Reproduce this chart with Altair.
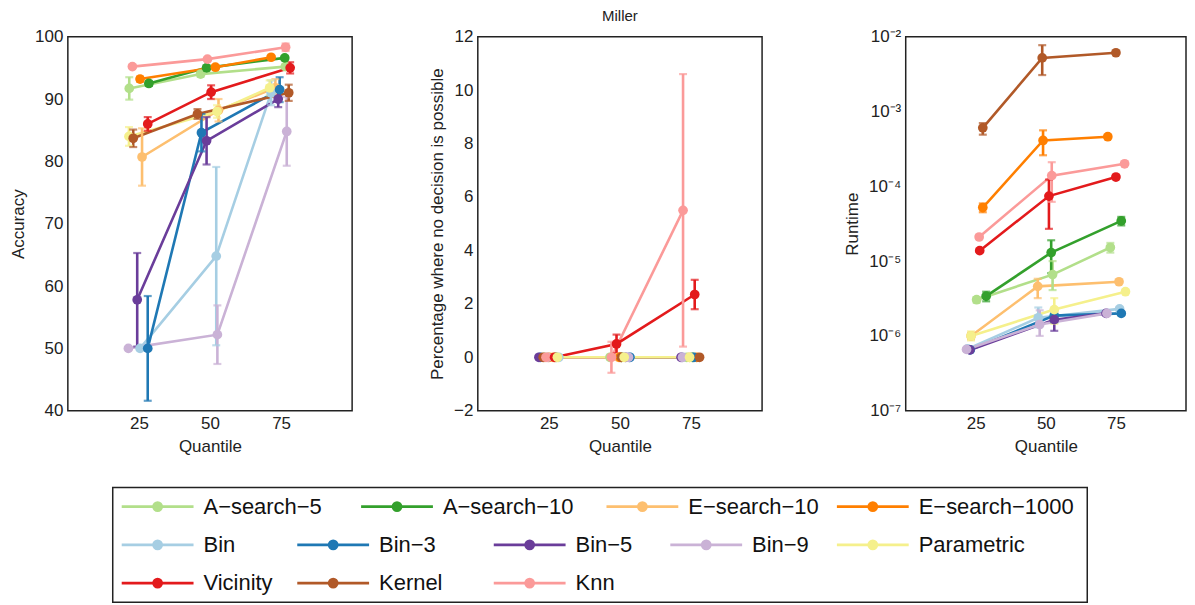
import altair as alt
import pandas as pd

SERIES = ["A−search−5", "A−search−10", "E−search−10", "E−search−1000", "Bin", "Bin−3",
          "Bin−5", "Bin−9", "Parametric", "Vicinity", "Kernel", "Knn"]
COLORS = ["#b2df8a", "#33a02c", "#fdbf6f", "#ff7f00", "#a6cee3", "#1f78b4",
          "#6a3d9a", "#cab2d6", "#f5f08c", "#e31a1c", "#b15928", "#fb9a99"]

# ---------------- Accuracy (left panel) ----------------
ACC_X = [[21.6, 46.7, 76.5], [28.5, 48.8, 76.3], [26.1, 53.0, 73.0], [25.4, 51.9, 71.5],
         [25.4, 52.2, 71.5], [28.1, 47.0, 74.5], [24.4, 48.8, 74.0], [21.3, 52.6, 77.0],
         [21.5, 52.5, 71.0], [28.1, 50.4, 78.2], [23.0, 45.6, 77.7], [22.7, 49.1, 76.6]]
ACC_MEAN = [[91.7, 94.0, 95.2], [92.5, 95.0, 96.6], [80.7, 88.2, 91.8], [93.2, 95.1, 96.7],
            [50.0, 64.8, 91.0], [50.0, 84.6, 91.5], [57.8, 83.3, 90.0], [50.0, 52.2, 84.8],
            [84.0, 88.0, 91.8], [86.0, 91.1, 95.0], [83.7, 87.6, 91.0], [95.2, 96.4, 98.3]]
ACC_ERR = [[1.8, 0.4, 0.3], [0.4, 0.4, 0.3], [4.6, 1.8, 1.4], [0.4, 0.3, 0.2],
           [0.2, 14.3, 2.0], [8.4, 3.0, 2.0], [7.5, 3.8, 1.3], [0.1, 4.7, 5.5],
           [1.5, 1.0, 1.2], [1.1, 1.1, 0.9], [1.4, 0.8, 1.3], [0.2, 0.2, 0.6]]

# ---------------- No decision possible (middle panel) ----------------
NODEC_X = [[23.5, 46.5, 73.5], [27.5, 50.5, 75.5], [26.5, 49.5, 74.5], [25.0, 50.0, 77.0],
           [28.5, 53.5, 72.0], [22.0, 53.5, 76.0], [21.5, 52.0, 71.5], [24.5, 53.0, 72.0],
           [28.0, 51.5, 74.5], [27.0, 48.8, 76.3], [23.0, 50.5, 78.0], [24.0, 47.0, 72.2]]
NODEC_MEAN = [[0, 0, 0]] * 9 + [[0, 0.5, 2.35], [0, 0, 0], [0, 0, 5.5]]
NODEC_ERR = [[0, 0, 0]] * 9 + [[0, 0.35, 0.55], [0, 0, 0], [0, 0.58, 5.1]]

# ---------------- Runtime (right panel) ----------------
RT_X = [[25.3, 52.4, 73.0], [28.7, 51.9, 76.9], [23.3, 47.1, 76.1], [27.5, 49.0, 72.1],
        [22.1, 47.3, 76.3], [23.0, 53.0, 76.9], [22.9, 53.0, 71.5], [21.7, 47.8, 71.8],
        [23.3, 53.0, 78.4], [26.4, 51.1, 75.0], [27.5, 48.7, 75.0], [26.2, 52.1, 78.1]]
RT_MEAN = [[3.05e-6, 6.6e-6, 1.52e-5], [3.4e-6, 1.3e-5, 3.45e-5], [1.0e-6, 4.6e-6, 5.3e-6],
           [5.2e-5, 4.1e-4, 4.6e-4], [6.7e-7, 1.75e-6, 2.3e-6], [6.5e-7, 1.87e-6, 2.0e-6],
           [6.5e-7, 1.65e-6, 2.0e-6], [6.6e-7, 1.42e-6, 2.0e-6], [1.0e-6, 2.25e-6, 3.9e-6],
           [1.38e-5, 7.4e-5, 1.33e-4], [6.05e-4, 5.2e-3, 6.1e-3], [2.1e-5, 1.39e-4, 2.0e-4]]
RT_LO = [[2.8e-6, 4.1e-6, 1.3e-5], [2.9e-6, 6.9e-6, 3.0e-5], [0.9e-6, 3.2e-6, 5.1e-6],
         [4.5e-5, 2.6e-4, 4.4e-4], [6.4e-7, 1.3e-6, 2.2e-6], [6.2e-7, 1.5e-6, 1.9e-6],
         [6.2e-7, 1.17e-6, 1.9e-6], [6.3e-7, 1.0e-6, 1.9e-6], [0.87e-6, 1.45e-6, 3.8e-6],
         [1.33e-5, 2.7e-5, 1.28e-4], [4.9e-4, 3.07e-3, 5.9e-3], [2.0e-5, 6.2e-5, 1.95e-4]]
RT_HI = [[3.3e-6, 1.0e-5, 1.75e-5], [3.9e-6, 1.9e-5, 3.9e-5], [1.1e-6, 5.8e-6, 5.5e-6],
         [5.9e-5, 5.6e-4, 4.8e-4], [7.0e-7, 2.4e-6, 2.4e-6], [6.8e-7, 2.2e-6, 2.1e-6],
         [6.8e-7, 2.2e-6, 2.1e-6], [6.9e-7, 2.2e-6, 2.1e-6], [1.15e-6, 3.2e-6, 4.0e-6],
         [1.43e-5, 1.23e-4, 1.38e-4], [7.0e-4, 7.7e-3, 6.3e-3], [2.2e-5, 2.1e-4, 2.05e-4]]

QUANTILE_TICKS = [25, 50, 75]

# Legend arrangement (rows of series indices, as in the figure)
LEGEND_ROWS = [[0, 1, 2, 3], [4, 5, 6, 7, 8], [9, 10, 11]]
LEGEND_COL_START = [[9, 249, 495, 726], [9, 185, 382, 559, 726], [9, 185, 382]]

FONT = "Liberation Sans"
LW = 2.6
PW, PH = 285, 375
PW_RIGHT = 281


def build_df(xs, means, los, his, draw_order=None):
    rows = []
    order = draw_order if draw_order is not None else list(range(len(SERIES)))
    for rank, i in enumerate(order):
        for j in range(3):
            rows.append(dict(series=SERIES[i], k=rank, q=QUANTILE_TICKS[j], x=xs[i][j],
                             y=means[i][j], lo=los[i][j], hi=his[i][j]))
    return pd.DataFrame(rows)


acc_lo = [[m - e for m, e in zip(ms, es)] for ms, es in zip(ACC_MEAN, ACC_ERR)]
acc_hi = [[m + e for m, e in zip(ms, es)] for ms, es in zip(ACC_MEAN, ACC_ERR)]
nd_lo = [[m - e for m, e in zip(ms, es)] for ms, es in zip(NODEC_MEAN, NODEC_ERR)]
nd_hi = [[m + e for m, e in zip(ms, es)] for ms, es in zip(NODEC_MEAN, NODEC_ERR)]

df_acc = build_df(ACC_X, ACC_MEAN, acc_lo, acc_hi)
mid_order = [0, 1, 2, 3, 4, 5, 6, 7, 10, 11, 9, 8]
df_nd = build_df(NODEC_X, NODEC_MEAN, nd_lo, nd_hi, mid_order)
df_rt = build_df(RT_X, RT_MEAN, RT_LO, RT_HI)

cscale = alt.Scale(domain=SERIES, range=COLORS)

log_label = ("'10' + replace(replace(replace(replace(replace(replace(replace("
             "'' + round(log(datum.value)/LN10), '-', '⁻'), '2', '²'), '3', '³'), "
             "'4', '⁴'), '5', '⁵'), '6', '⁶'), '7', '⁷')")


def panel(df, yscale, yaxis, title, width):
    xenc = alt.X("x:Q", scale=alt.Scale(domain=[0, 100], nice=False, zero=False),
                 axis=alt.Axis(values=QUANTILE_TICKS, title="Quantile", format="d"))
    color = alt.Color("series:N", scale=cscale, legend=None)
    base = alt.Chart(df)
    lines = base.mark_line(strokeWidth=LW).encode(
        x=xenc, y=alt.Y("y:Q", scale=yscale, axis=yaxis), color=color,
        detail="series:N", order="x:Q")
    bars = base.mark_rule(strokeWidth=LW).encode(
        x="x:Q", y=alt.Y("lo:Q", scale=yscale, axis=yaxis), y2="hi:Q", color=color)
    cap_lo = base.mark_tick(orient="horizontal", size=8, thickness=2.2).encode(
        x="x:Q", y=alt.Y("lo:Q", scale=yscale, axis=yaxis), color=color)
    cap_hi = base.mark_tick(orient="horizontal", size=8, thickness=2.2).encode(
        x="x:Q", y=alt.Y("hi:Q", scale=yscale, axis=yaxis), color=color)
    pts = base.mark_circle(size=95, opacity=1).encode(
        x="x:Q", y=alt.Y("y:Q", scale=yscale, axis=yaxis), color=color, order="k:Q")
    return alt.layer(lines, bars, cap_lo, cap_hi, pts).properties(
        width=width, height=PH,
        title=alt.TitleParams(title, fontSize=15, font=FONT, fontWeight="normal",
                              offset=4, color="#222"))


left = panel(df_acc, alt.Scale(domain=[40, 100], nice=False, zero=False),
             alt.Axis(values=[40, 50, 60, 70, 80, 90, 100], title="Accuracy"), " ", PW)
mid = panel(df_nd, alt.Scale(domain=[-2, 12], nice=False, zero=False),
            alt.Axis(values=[-2, 0, 2, 4, 6, 8, 10, 12],
                     title="Percentage where no decision is possible"), "Miller", PW)
right = panel(df_rt, alt.Scale(type="log", domain=[1e-7, 1e-2], nice=False),
              alt.Axis(values=[1e-7, 1e-6, 1e-5, 1e-4, 1e-3, 1e-2], title="Runtime",
                       labelExpr=log_label), " ", PW_RIGHT)

# ---------------- Legend ----------------
leg_rows = []
for r, (idxs, starts) in enumerate(zip(LEGEND_ROWS, LEGEND_COL_START)):
    for i, s in zip(idxs, starts):
        leg_rows.append(dict(series=SERIES[i], row=r, x0=s, x1=s + 72, xm=s + 36, xt=s + 82))
df_leg = pd.DataFrame(leg_rows)

lx = alt.Scale(domain=[0, 977], nice=False, zero=False)
lys = alt.Scale(domain=[-0.5, 2.5], reverse=True, nice=False, zero=False)
ly = alt.Y("row:Q", axis=None, scale=lys)
lcolor = alt.Color("series:N", scale=cscale, legend=None)
lb = alt.Chart(df_leg)
leg = alt.layer(
    lb.mark_rule(strokeWidth=LW).encode(x=alt.X("x0:Q", scale=lx, axis=None), x2="x1:Q",
                                        y=ly, color=lcolor),
    lb.mark_circle(size=115, opacity=1).encode(x=alt.X("xm:Q", scale=lx, axis=None),
                                               y=ly, color=lcolor),
    lb.mark_text(align="left", baseline="middle", fontSize=22, font=FONT, color="#111").encode(
        x=alt.X("xt:Q", scale=lx, axis=None), y=ly, text="series:N"),
).properties(width=977, height=115)

# invisible spacer that shifts the legend box to the right
spacer = alt.Chart(pd.DataFrame({"s": [0]})).mark_point(opacity=0).encode(
    x=alt.value(0), y=alt.value(0)
).properties(width=44, height=115, view=alt.ViewBackground(strokeOpacity=0))

legend_row = alt.hconcat(spacer, leg, spacing=0)

top = alt.hconcat(alt.hconcat(left, mid, spacing=74), right, spacing=80)
chart = alt.vconcat(top, legend_row, spacing=29).configure(
    font=FONT, padding={"left": 0, "top": -1, "right": 0, "bottom": 0}
).configure_view(
    stroke="#222", strokeWidth=1.5
).configure_axis(
    grid=False, domain=False, ticks=False, labelPadding=5, titlePadding=7,
    labelFontSize=17, titleFontSize=17, titleFontWeight="normal", labelColor="#222",
    titleColor="#222", labelFont=FONT, titleFont=FONT
)

chart.save("out.html", embed_options={"renderer": "svg", "actions": False})
